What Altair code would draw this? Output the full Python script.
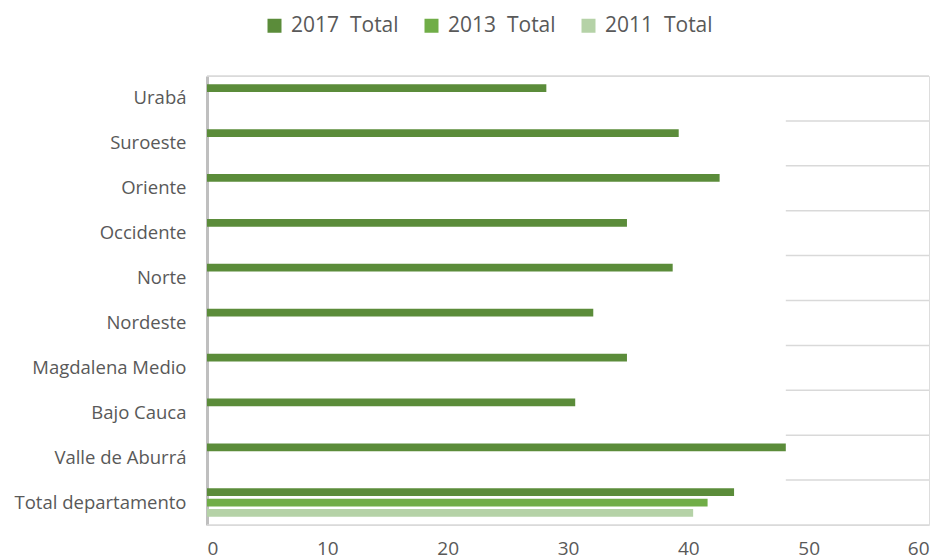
import altair as alt
import pandas as pd

categories = ["Urabá", "Suroeste", "Oriente", "Occidente", "Norte", "Nordeste",
              "Magdalena Medio", "Bajo Cauca", "Valle de Aburrá", "Total departamento"]
total_2017 = [28.2, 39.2, 42.6, 34.9, 38.7, 32.1, 34.9, 30.6, 48.1, 43.8]
total_2013 = {"Total departamento": 41.6}
total_2011 = {"Total departamento": 40.4}

series = ["2017 Total", "2013 Total", "2011 Total"]
colors = ["#5B8C3A", "#70AD47", "#B5D2A7"]
x_ticks = [0, 10, 20, 30, 40, 50, 60]

rows = []
for c, v in zip(categories, total_2017):
    rows.append({"cat": c, "series": series[0], "value": v})
for c, v in total_2013.items():
    rows.append({"cat": c, "series": series[1], "value": v})
for c, v in total_2011.items():
    rows.append({"cat": c, "series": series[2], "value": v})
df = pd.DataFrame(rows)

font = "Open Sans"
label_color = "#595959"

ysc = alt.Scale(paddingInner=0, paddingOuter=0)
xsc = alt.Scale(domain=[0, 60], nice=False)

bars = alt.Chart(df).mark_bar().encode(
    x=alt.X("value:Q", scale=xsc,
            axis=alt.Axis(values=x_ticks, title=None, grid=False, domain=False, ticks=False,
                          labelFontSize=19, labelFont=font, labelColor=label_color,
                          labelPadding=14)),
    y=alt.Y("cat:N", sort=categories, scale=ysc,
            axis=alt.Axis(title=None, ticks=False, domainColor="#BFBFBF", domainWidth=3,
                          labelFontSize=18.5, labelFont=font, labelColor=label_color,
                          labelPadding=21, minExtent=194, maxExtent=194)),
    yOffset=alt.YOffset("series:N", sort=series,
                        scale=alt.Scale(paddingInner=0.25, paddingOuter=0.8)),
    color=alt.Color("series:N", sort=series,
                    scale=alt.Scale(domain=series, range=colors),
                    legend=alt.Legend(title=None, orient="none", direction="horizontal",
                                      legendX=57, legendY=-61,
                                      symbolType="square", symbolSize=196,
                                      symbolStrokeWidth=0, labelFontSize=21,
                                      labelFont=font, labelColor=label_color,
                                      labelOffset=6, columnPadding=22,
                                      labelExpr="replace(datum.label, ' ', '\u00a0\u00a0')")),
)

vmax = max(total_2017)
edge_df = pd.DataFrame([
    {"cat": categories[0], "x0": 0, "x1": 60, "pos": "top"},
    {"cat": categories[-1], "x0": 0, "x1": 60, "pos": "bottom"},
])
inner_df = pd.DataFrame([{"cat": c, "x0": vmax, "x1": 60} for c in categories[1:]])

top_rule = alt.Chart(edge_df[edge_df.pos == "top"]).mark_rule(color="#D9D9D9", strokeWidth=1.5).encode(
    y=alt.Y("cat:N", sort=categories, bandPosition=0),
    x=alt.X("x0:Q"), x2="x1:Q")
bottom_rule = alt.Chart(edge_df[edge_df.pos == "bottom"]).mark_rule(color="#D9D9D9", strokeWidth=1.5).encode(
    y=alt.Y("cat:N", sort=categories, bandPosition=1),
    x=alt.X("x0:Q"), x2="x1:Q")
inner_rules = alt.Chart(inner_df).mark_rule(color="#D9D9D9", strokeWidth=1.5).encode(
    y=alt.Y("cat:N", sort=categories, bandPosition=0),
    x=alt.X("x0:Q"), x2="x1:Q")

chart = alt.layer(top_rule, bottom_rule, inner_rules, bars).properties(
    width=722, height=449,
    padding={"left": 5, "top": 7, "right": 5, "bottom": 5}
).configure_view(stroke=None).configure(font=font)

chart.save("out.html", embed_options={"renderer": "svg", "actions": False})
